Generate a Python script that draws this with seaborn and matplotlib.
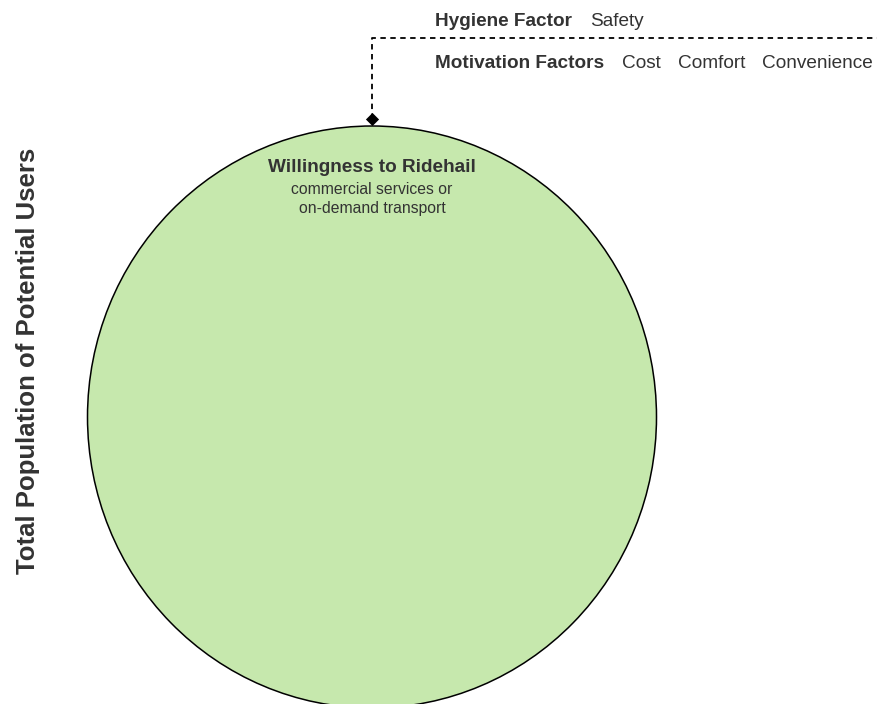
import matplotlib
matplotlib.use("Agg")
import matplotlib.pyplot as plt
from matplotlib.patches import Ellipse
import seaborn as sns
import pandas as pd

# ---- data ----
circle_label = "Willingness to Ridehail"
circle_sublabel = ["commercial services or", "on-demand transport"]
axis_label = "Total Population of Potential Users"
hygiene_title = "Hygiene Factor"
hygiene_items = ["Safety"]
motivation_title = "Motivation Factors"
motivation_items = ["Cost", "Comfort", "Convenience"]

# layout in pixel coordinates (canvas 877 x 704)
circle_center = (372, 417)
circle_width = 569
circle_height = 582
connector_x = [372, 372, 877]
connector_y = [119, 38, 38]

sns.set_theme(style="white")
plt.rcParams['font.family'] = ['Liberation Sans', 'DejaVu Sans']
TXT = "#333333"

fig = plt.figure(figsize=(8.77, 7.04), dpi=100)
ax = fig.add_axes([0, 0, 1, 1])

ax.add_patch(Ellipse(circle_center, circle_width, circle_height,
                     facecolor="#c6e8ad", edgecolor="black", linewidth=1.1,
                     zorder=1))

df = pd.DataFrame({"x": connector_x, "y": connector_y})
sns.lineplot(data=df, x="x", y="y", sort=False, estimator=None, ax=ax,
             color="black", linewidth=1.3, linestyle=(0, (3, 2.5)), zorder=2)
sns.scatterplot(x=[connector_x[0]], y=[connector_y[0]], marker="D", s=45,
                color="black", ax=ax, zorder=3, linewidth=0)
ax.set_xlim(0, 877)
ax.set_ylim(704, 0)
ax.axis("off")

# circle labels
ax.text(circle_center[0], 168, circle_label, ha="center", va="center",
        fontsize=13.7, fontweight="bold", color=TXT)
ax.text(circle_center[0], 189, circle_sublabel[0], ha="center", va="center",
        fontsize=11.3, color=TXT)
ax.text(circle_center[0], 209, circle_sublabel[1], ha="center", va="center",
        fontsize=11.3, color=TXT)

# vertical axis-like label
ax.text(28, 361, axis_label, rotation=90, ha="center", va="center",
        fontsize=18.5, fontweight="bold", color=TXT)

# factor rows
ax.text(435, 22, hygiene_title, ha="left", va="center", fontsize=13.7,
        fontweight="bold", color=TXT)
for xpos, item in zip([590], hygiene_items):
    ax.text(xpos, 22, item, ha="left", va="center", fontsize=13.7, color=TXT)

ax.text(435, 64, motivation_title, ha="left", va="center", fontsize=13.7,
        fontweight="bold", color=TXT)
for xpos, item in zip([622, 678, 762], motivation_items):
    ax.text(xpos, 64, item, ha="left", va="center", fontsize=13.7, color=TXT)

fig.savefig("out.png", dpi=100)
